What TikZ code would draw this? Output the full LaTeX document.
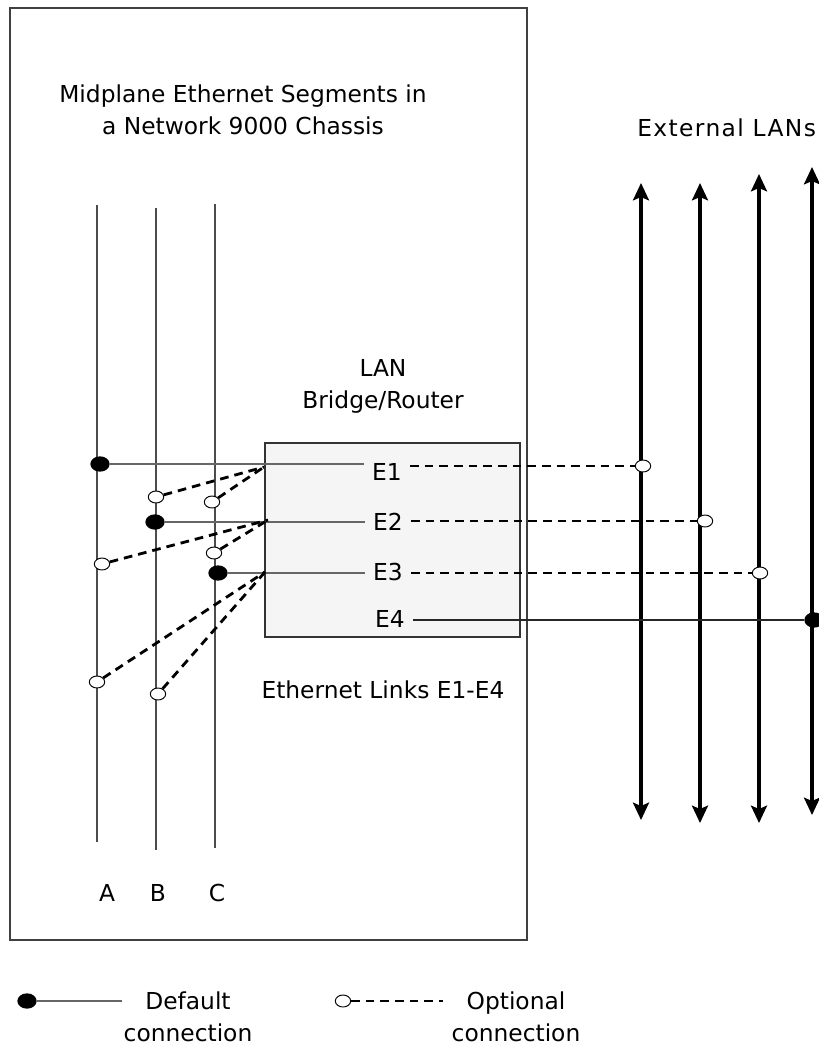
\documentclass[tikz,border=0pt]{standalone}
\usepackage{fontspec}
\setmainfont{DejaVu Sans}
\usetikzlibrary{arrows.meta,shapes.geometric}

\begin{document}
\begin{tikzpicture}[x=0.75pt,y=-0.75pt,
  every node/.style={inner sep=0pt, font=\fontsize{17.5}{24}\selectfont},
  dflt/.style={ellipse, fill=black, minimum width=14.5pt, minimum height=11.5pt},
  opt/.style={ellipse, draw=black, fill=white, line width=0.7pt, minimum width=11.5pt, minimum height=9pt},
  solidline/.style={draw=black!60, line width=0.9pt},
  optline/.style={draw=black, line width=2.1pt, dash pattern=on 6.5pt off 4.5pt},
  seg/.style={draw=black!70, line width=0.9pt},
  lan/.style={draw=black, line width=2.4pt, {Stealth[length=13pt,width=12pt,inset=2.5pt]}-{Stealth[length=13pt,width=12pt,inset=2.5pt]}},
  elabel/.style={inner xsep=6pt}]
\useasboundingbox (0,0) rectangle (818,1046);

% chassis
\draw[draw=black!75, line width=1pt] (10,8) rectangle (527,940);
\node[align=center] (title) at (243,110) {Midplane Ethernet Segments in\\a Network 9000 Chassis};

% midplane segments
\coordinate (atop) at (97,205);  \coordinate (abot) at (97,842);
\coordinate (btop) at (156,208); \coordinate (bbot) at (156,850);
\coordinate (ctop) at (215,204); \coordinate (cbot) at (215,848);
\draw[seg] (atop) -- (abot);
\draw[seg] (btop) -- (bbot);
\draw[seg] (ctop) -- (cbot);
\node (la) at (107,893) {A};
\node (lb) at (158,893) {B};
\node (lc) at (217,893) {C};

% bridge/router
\node[align=center] (brtitle) at (383,386) {LAN\\Bridge/Router};
\draw[draw=black!80, fill=black!4, line width=0.9pt] (265,443) rectangle (520,637);
\node[elabel] (e1) at (387,472) {E1};
\node[elabel] (e2) at (388,522) {E2};
\node[elabel] (e3) at (388,572) {E3};
\node[elabel] (e4) at (390,619) {E4};
\node (links) at (383,690) {Ethernet Links E1-E4};

\coordinate (j1) at (264,467);
\coordinate (j2) at (268,520);
\coordinate (j3) at (265,572);

% external LANs
\node[anchor=west, font=\fontsize{17.5}{24}\selectfont\addfontfeature{LetterSpace=6}] (ext) at (637,128) {External LANs};
\coordinate (l1top) at (641,183); \coordinate (l1bot) at (641,820);
\coordinate (l2top) at (700,183); \coordinate (l2bot) at (700,823);
\coordinate (l3top) at (759,174); \coordinate (l3bot) at (759,823);
\coordinate (l4top) at (812,167); \coordinate (l4bot) at (812,815);
\draw[lan] (l1bot) -- (l1top);
\draw[lan] (l2bot) -- (l2top);
\draw[lan] (l3bot) -- (l3top);
\draw[lan] (l4bot) -- (l4top);

% default connections
\node[dflt] (da) at (100,464) {};
\node[dflt] (db) at (155,522) {};
\node[dflt] (dc) at (218,573) {};
\draw[solidline] (da) -- (e1.west |- da);
\draw[solidline] (db) -- (e2.west |- db);
\draw[solidline] (dc) -- (e3.west |- dc);

% optional connections
\node[opt] (ob1) at (156,497) {};
\node[opt] (oc1) at (212,502) {};
\node[opt] (oa2) at (102,564) {};
\node[opt] (oc2) at (214,553) {};
\node[opt] (oa3) at (97,682) {};
\node[opt] (ob3) at (158,694) {};
\draw[optline] (ob1) -- (j1);
\draw[optline] (oc1) -- (j1);
\draw[optline] (oa2) -- (j2);
\draw[optline] (oc2) -- (j2);
\draw[optline] (oa3) -- (j3);
\draw[optline] (ob3) -- (j3);

\node[opt] (x1) at (643,466) {};
\node[opt] (x2) at (705,521) {};
\node[opt] (x3) at (760,573) {};
\node[dflt] (x4) at (814,620) {};
\draw[optline] (e1.east |- x1) -- (x1);
\draw[optline] (e2.east |- x2) -- (x2);
\draw[optline] (e3.east |- x3) -- (x3);
\draw[solidline, draw=black!85] (e4.east |- x4) -- (x4);

% legend
\node[dflt] (ldflt) at (27,1001) {};
\coordinate (ldend) at (122,1001);
\draw[solidline] (ldflt) -- (ldend);
\node[align=center] (ldtext) at (188,1017) {Default\\connection};
\node[opt] (lopt) at (343,1001) {};
\coordinate (loend) at (443,1001);
\draw[optline] (lopt) -- (loend);
\node[align=center] (lotext) at (516,1017) {Optional\\connection};
\end{tikzpicture}
\end{document}
